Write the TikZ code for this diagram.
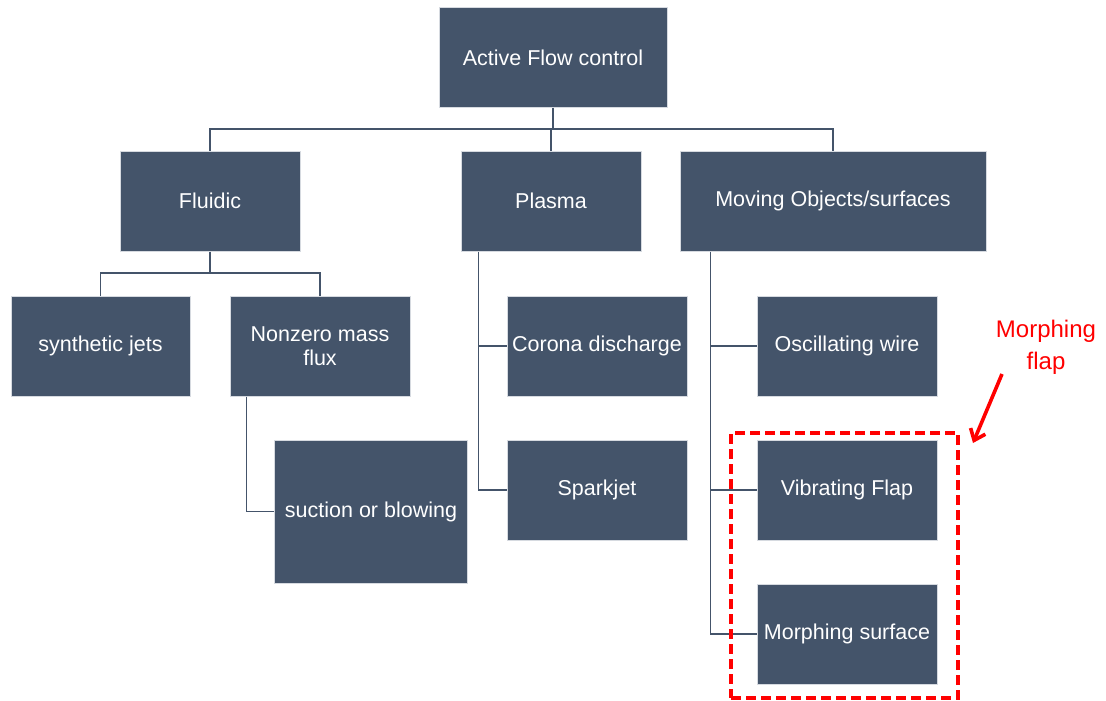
\documentclass[tikz,border=0pt]{standalone}
\usepackage{fontspec}
\setmainfont{Liberation Sans}
\usetikzlibrary{arrows.meta}
\definecolor{boxfill}{HTML}{44546A}
\definecolor{boxedge}{HTML}{D6DAE0}
\definecolor{linkcol}{HTML}{44546A}
\definecolor{note}{HTML}{FF0000}
\begin{document}
\begin{tikzpicture}[x=1pt,y=-1pt,
  box/.style={rectangle, fill=boxfill, draw=boxedge, line width=1pt,
    text=white, align=center, inner sep=0pt,
    font=\fontsize{21.5}{24}\selectfont},
  link/.style={draw=linkcol, line width=1.3pt},
  notebox/.style={draw=note, line width=3.6pt, dash pattern=on 10pt off 5pt},
  notearrow/.style={draw=note, line width=3.6pt, -{Straight Barb[length=10pt,width=16pt]}}]
\useasboundingbox (0,0) rectangle (1106,701);

% tree boxes
\node[box, minimum width=228, minimum height=99] (afc) at (553,57.5) {Active Flow control};
\node[box, minimum width=180, minimum height=100] (fl) at (210,201) {Fluidic};
\node[box, minimum width=180, minimum height=100] (pl) at (551,201) {Plasma};
\node[box, minimum width=306, minimum height=100] (mo) at (833,201) {Moving Objects/surfaces};
\node[box, minimum width=179, minimum height=100] (sj) at (100.5,346) {synthetic jets};
\node[box, minimum width=180, minimum height=100] (nz) at (320,346) {Nonzero mass\\flux};
\node[box, minimum width=193, minimum height=143] (sb) at (371,511.5) {suction or blowing};
\node[box, minimum width=180, minimum height=100] (co) at (597,346) {Corona discharge};
\node[box, minimum width=180, minimum height=100] (sp) at (597,490) {Sparkjet};
\node[box, minimum width=180, minimum height=100] (ow) at (847,346) {Oscillating wire};
\node[box, minimum width=180, minimum height=100] (vf) at (847,490) {Vibrating Flap};
\node[box, minimum width=180, minimum height=100] (ms) at (847,634) {Morphing surface};

% level-one bus
\coordinate (bus) at (0,129);
\draw[link] (afc.south) -- (afc.south |- bus);
\draw[link] (fl.north) |- (mo.north |- bus) -- (mo.north);
\draw[link] (pl.north) -- (pl.north |- bus);

% fluidic branch
\coordinate (fbus) at (0,273);
\draw[link] (fl.south) -- (fl.south |- fbus);
\draw[link] (sj.north) |- (nz.north |- fbus) -- (nz.north);
\coordinate (nzspine) at ([xshift=17pt]nz.south west);
\draw[link] (nzspine) |- (sb.west);

% plasma branch
\coordinate (plspine) at ([xshift=18pt]pl.south west);
\draw[link] (plspine) |- (sp.west);
\draw[link] (co.west) -- (co.west -| plspine);

% moving objects branch
\coordinate (mospine) at ([xshift=31pt]mo.south west);
\draw[link] (mospine) |- (ms.west);
\draw[link] (ow.west) -- (ow.west -| mospine);
\draw[link] (vf.west) -- (vf.west -| mospine);

% highlight
\node[notebox, rectangle, inner sep=0pt, minimum width=227, minimum height=265] (hl) at (844.5,565.5) {};
\node[text=note, align=center, font=\fontsize{24}{32}\selectfont] (lbl) at (1046,347) {Morphing\\flap};
\coordinate (tail) at (1002,374);
\coordinate (tip) at (973,443);
\draw[notearrow] (tail) -- (tip);
\end{tikzpicture}
\end{document}
